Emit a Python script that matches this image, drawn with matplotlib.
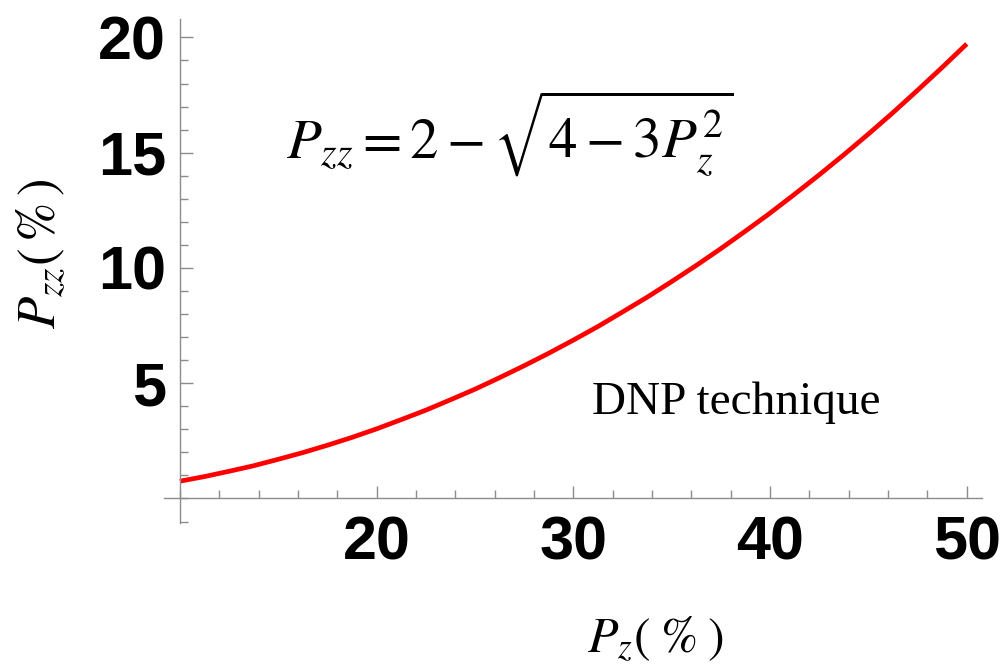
import matplotlib
matplotlib.use("Agg")
import matplotlib.pyplot as plt
from matplotlib.ticker import MultipleLocator, FixedLocator

plt.rcParams['mathtext.fontset'] = 'stix'

# values (Pz in %, Pzz in %)
pz = [10, 11.25, 12.5, 13.75, 15, 16.25, 17.5, 18.75, 20, 21.25, 22.5, 23.75,
      25, 26.25, 27.5, 28.75, 30, 31.25, 32.5, 33.75, 35, 36.25, 37.5, 38.75,
      40, 41.25, 42.5, 43.75, 45, 46.25, 47.5, 48.75, 50]
pzz = [0.75, 0.95, 1.18, 1.42, 1.70, 1.99, 2.31, 2.65, 3.02, 3.42, 3.83, 4.28,
       4.74, 5.24, 5.76, 6.30, 6.87, 7.46, 8.09, 8.73, 9.41, 10.11, 10.84, 11.60,
       12.38, 13.20, 14.04, 14.91, 15.81, 16.74, 17.71, 18.70, 19.72]

x_ticks = [20, 30, 40, 50]
y_ticks = [5, 10, 15, 20]

fig = plt.figure(figsize=(10.04, 6.69), dpi=100)
ax = fig.add_axes([0.1633, 0.2187, 0.8145, 0.7529])

ax.plot(pz, pzz, color='#ff0000', lw=3.4, solid_capstyle='butt',
        solid_joinstyle='round')

ax.set_xlim(9.19, 50.76)
ax.set_ylim(-1.05, 20.8)

gray = '#8c8c8c'
for s in ['top', 'right']:
    ax.spines[s].set_visible(False)
ax.spines['left'].set_position(('data', 10))
ax.spines['bottom'].set_position(('data', 0))
for s in ['left', 'bottom']:
    ax.spines[s].set_color(gray)
    ax.spines[s].set_linewidth(1.0)

ax.xaxis.set_major_locator(FixedLocator(x_ticks))
ax.xaxis.set_minor_locator(MultipleLocator(2))
ax.yaxis.set_major_locator(FixedLocator(y_ticks))
ax.yaxis.set_minor_locator(MultipleLocator(1))

ax.tick_params(which='both', direction='in', color=gray, width=1.0)
ax.tick_params(which='major', length=9)
ax.tick_params(which='minor', length=6)
ax.tick_params(axis='x', which='major', pad=12)
ax.tick_params(axis='y', which='major', pad=10)

for lab in ax.get_xticklabels() + ax.get_yticklabels():
    lab.set_fontfamily('Liberation Sans')
    lab.set_fontweight('bold')
    lab.set_fontsize(44)

fig.text(0.04, 0.62, r'$P_{zz}(\,\%\,)$', rotation=90, fontsize=38,
         ha='center', va='center')
fig.text(0.653, 0.045, r'$P_{z}(\;\%\;)$', fontsize=36, ha='center', va='center')

ax.text(26.8, 15.8, r'$P_{zz} = 2 - \sqrt{4 - 3P_z^2}$', fontsize=41,
        ha='center', va='center')
ax.text(38.3, 4.15, 'DNP technique', fontfamily='Liberation Serif', fontsize=34,
        ha='center', va='center')

fig.savefig('out.png', dpi=100)
